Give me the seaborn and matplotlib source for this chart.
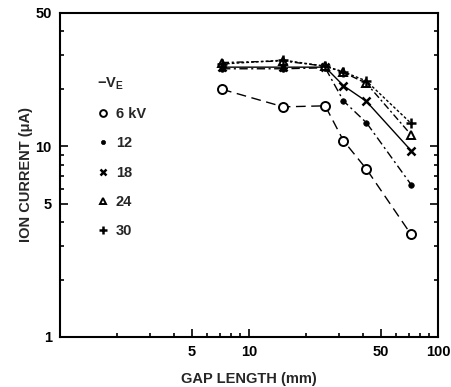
import matplotlib
matplotlib.use("Agg")
import matplotlib.pyplot as plt
import seaborn as sns
import numpy as np
from matplotlib.ticker import FixedLocator, NullFormatter, FixedFormatter
from matplotlib.lines import Line2D

sns.set_style("ticks")
plt.rcParams['font.family'] = ['Liberation Sans', 'DejaVu Sans']
plt.rcParams['font.weight'] = 'bold'
plt.rcParams['mathtext.default'] = 'regular'

gap_mm = [7.2, 15.2, 25.3, 31.6, 41.8, 72.0]
i_6kv = [19.9, 16.1, 16.3, 10.7, 7.6, 3.45]
i_12kv = [25.5, 25.5, 25.8, 17.3, 13.3, 6.3]
i_18kv = [26.0, 26.0, 26.0, 20.8, 17.2, 9.5]
i_24kv = [27.5, 28.0, 26.3, 24.4, 21.4, 11.5]
i_30kv = [27.0, 28.3, 26.3, 24.6, 22.0, 13.2]
series_labels = ["6 kV", "12", "18", "24", "30"]

x_major = [5, 10, 50, 100]
y_major = [1, 5, 10, 50]

fig = plt.figure(figsize=(4.52, 3.87), dpi=100)
ax = fig.add_axes([60/452, 1-337/387, (438-60)/452, (337-13)/387])

styles = [
    dict(marker='o', ms=6.5, mfc='white', mec='black', mew=1.4, linestyle=(0, (7, 4))),
    dict(marker='o', ms=4, mfc='black', mec='black', mew=0.5, linestyle=(0, (6, 2.5, 1.5, 2.5))),
    dict(marker='x', ms=6, mfc='black', mec='black', mew=1.8, linestyle='-'),
    dict(marker='^', ms=6, mfc='white', mec='black', mew=1.4, linestyle=(0, (5, 2, 1.5, 2))),
    dict(marker='+', ms=7, mfc='black', mec='black', mew=1.8, linestyle=(0, (2, 1.5))),
]
data = [i_6kv, i_12kv, i_18kv, i_24kv, i_30kv]
for vals, st in zip(data, styles):
    sns.lineplot(x=gap_mm, y=vals, ax=ax, color='black', lw=1.0, errorbar=None,
                 sort=False, **st)

ax.set_xscale('log')
ax.set_yscale('log')
ax.set_xlim(1, 100)
ax.set_ylim(1, 50)

ax.xaxis.set_major_locator(FixedLocator(x_major))
ax.xaxis.set_major_formatter(FixedFormatter([str(v) for v in x_major]))
ax.xaxis.set_minor_locator(FixedLocator([2, 3, 4, 6, 7, 8, 9, 20, 30, 40, 60, 70, 80, 90]))
ax.xaxis.set_minor_formatter(NullFormatter())
ax.yaxis.set_major_locator(FixedLocator(y_major))
ax.yaxis.set_major_formatter(FixedFormatter([str(v) for v in y_major]))
ax.yaxis.set_minor_locator(FixedLocator([2, 3, 4, 6, 7, 8, 9, 20, 30, 40]))
ax.yaxis.set_minor_formatter(NullFormatter())

ax.tick_params(which='both', direction='in', left=True, right=True, bottom=True, top=False,
               labelsize=10.5, width=1.2, colors='black')
ax.tick_params(which='major', length=6, pad=6)
ax.tick_params(which='minor', length=3)
for s in ax.spines.values():
    s.set_linewidth(1.5)
    s.set_color('black')

ax.set_xlabel("GAP LENGTH (mm)", fontsize=10.5, fontweight='bold', labelpad=9)
ax.set_ylabel("ION CURRENT (\u03bcA)", fontsize=10.5, fontweight='bold', labelpad=2)

handles = []
for lab, st in zip(series_labels, styles):
    s2 = dict(st)
    s2.pop('linestyle')
    s2['ms'] = s2['ms'] * 0.75
    handles.append(Line2D([], [], color='black', linestyle='none', **s2))
leg = ax.legend(handles, series_labels, title=r"$-V_E$", loc='upper left',
                bbox_to_anchor=(0.078, 0.83), frameon=False, fontsize=10.5,
                handlelength=0.8, handletextpad=0.5, labelspacing=1.05,
                borderpad=0, title_fontsize=10.5)
leg._legend_box.align = "left"
plt.setp(leg.get_title(), fontweight='bold')

fig.savefig("out.png", dpi=100)
